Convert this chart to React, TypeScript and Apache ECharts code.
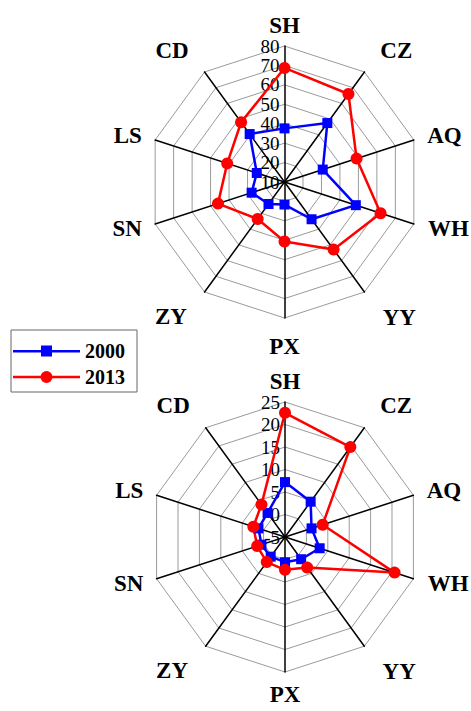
import React, { useEffect, useRef } from 'react';
import * as echarts from 'echarts';

// Regions listed clockwise starting at the top
const regions = ['SH', 'CZ', 'AQ', 'WH', 'YY', 'PX', 'ZY', 'SN', 'LS', 'CD'];
const years = ['2000', '2013'];

// Upper radar (scale 10..80)
const upper2000 = [37.6, 47.5, 30.7, 48.6, 33.7, 21.6, 24, 27.8, 25, 40.5];
const upper2013 = [68.7, 66, 49, 62, 53, 40.6, 33.5, 46, 41, 48];
const upperMin = 10;
const upperMax = 80;
const upperSplits = 7;

// Lower radar (scale -5..25)
const lower2000 = [7.2, 4.7, 1.2, 3.1, 1.1, 0.6, 0.4, 0.5, 1.2, 1.6];
const lower2013 = [22.6, 19.7, 3.8, 20.6, 3.4, 2.3, 1.9, 1.5, 2.4, 3.9];
const lowerMin = -5;
const lowerMax = 25;
const lowerSplits = 6;

const FONT = '"Liberation Serif", "Times New Roman", serif';
const BLUE = '#0000ff';
const RED = '#ff0000';

// ECharts radar goes counter-clockwise: reorder
const ccw = [0, 9, 8, 7, 6, 5, 4, 3, 2, 1];
const reorder = (arr: number[]) => ccw.map((i) => arr[i]);

const nameGaps: Record<string, number> = {
  SH: 8, CZ: 27, AQ: 14, WH: 15, YY: 31, PX: 17, ZY: 30, SN: 14, LS: 14, CD: 27,
};

function makeRadar(center: number[], radius: number, min: number, max: number, splits: number, pxGap: number) {
  return {
    center,
    radius,
    startAngle: 90,
    splitNumber: splits,
    shape: 'polygon',
    indicator: ccw.map((i) => {
      const name = regions[i];
      const ind: any = { name, min, max, nameGap: name === 'PX' ? pxGap : nameGaps[name] };
      if (i === 0) ind.axisLabel = { show: true };
      return ind;
    }),
    axisName: { color: '#000', fontFamily: FONT, fontWeight: 'bold', fontSize: 23 },
    axisLine: { lineStyle: { color: '#000', width: 1.5 } },
    splitLine: { lineStyle: { color: '#9a9a9a', width: 1 } },
    splitArea: { show: false },
    axisTick: { show: false },
    axisLabel: {
      show: false,
      color: '#000',
      fontFamily: FONT,
      fontSize: 19,
      lineHeight: 18,
      margin: 5,
      padding: [1, 0, 0, 0],
      showMinLabel: true,
      showMaxLabel: true,
      hideOverlap: false,
    },
  };
}

function makeSeries(radarIndex: number, v2000: number[], v2013: number[]) {
  return {
    type: 'radar',
    radarIndex,
    data: [
      {
        name: years[0],
        value: reorder(v2000),
        symbol: 'rect',
        symbolSize: 10,
        itemStyle: { color: BLUE },
        lineStyle: { color: BLUE, width: 2.5 },
      },
      {
        name: years[1],
        value: reorder(v2013),
        symbol: 'circle',
        symbolSize: 12,
        itemStyle: { color: RED },
        lineStyle: { color: RED, width: 2.5 },
      },
    ],
  };
}

export default function App() {
  const ref = useRef<HTMLDivElement>(null);
  useEffect(() => {
    document.body.style.margin = '0';
    if (!ref.current) return;
    const chart = echarts.init(ref.current, undefined, { renderer: 'svg' });
    chart.setOption({
      animation: false,
      backgroundColor: '#fff',
      legend: {
        left: 11,
        top: 330,
        orient: 'vertical',
        selectedMode: false,
        borderColor: '#666',
        borderWidth: 1,
        padding: [11, 12, 5, 2],
        itemGap: 6,
        itemWidth: 67,
        itemHeight: 12,
        textStyle: { fontFamily: FONT, fontWeight: 'bold', fontSize: 20, color: '#000', lineHeight: 20 },
        data: [
          { name: years[0], icon: 'path://M0,5 L67,5 L67,7.5 L0,7.5 Z M28,0.5 L39,0.5 L39,11.5 L28,11.5 Z', itemStyle: { color: BLUE } },
          { name: years[1], icon: 'path://M0,4.8 L67,4.8 L67,7.2 L0,7.2 Z M39.5,6 A6,6 0 1 1 27.5,6 A6,6 0 1 1 39.5,6 Z', itemStyle: { color: RED } },
        ],
      },
      radar: [
        makeRadar([284.5, 182], 136, upperMin, upperMax, upperSplits, 17),
        makeRadar([285, 537], 135, lowerMin, lowerMax, lowerSplits, 11),
      ],
      series: [
        makeSeries(0, upper2000, upper2013),
        makeSeries(1, lower2000, lower2013),
      ],
    });
    return () => chart.dispose();
  }, []);
  return <div ref={ref} style={{ width: 471, height: 711 }} />;
}
